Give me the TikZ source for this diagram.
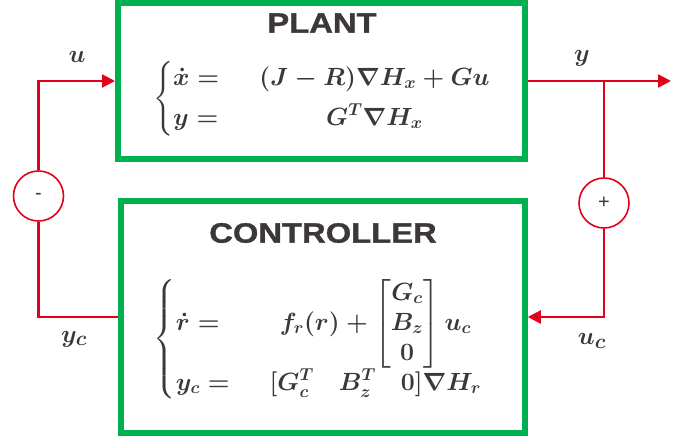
\documentclass[tikz,border=0pt]{standalone}
\usepackage{amsmath}
\usepackage{fontspec}
\usetikzlibrary{arrows.meta,positioning}

\newfontfamily\titlefont{Liberation Sans}[FakeStretch=1.17, BoldFeatures={FakeBold=1.2}]
\newfontfamily\signfont{Liberation Sans}

\definecolor{boxgreen}{RGB}{0,176,80}
\definecolor{sigred}{RGB}{226,0,26}
\definecolor{inkgray}{RGB}{60,56,56}

\begin{document}
\begin{tikzpicture}[
  x=1pt, y=-1pt,
  block/.style={draw=boxgreen, line width=6pt, inner sep=0pt},
  title/.style={text=inkgray, font=\titlefont\bfseries\fontsize{28}{32}\selectfont},
  eqn/.style={text=inkgray, inner sep=0pt, font=\fontsize{25}{30}\selectfont\mathversion{bold}},
  lbl/.style={text=inkgray, inner sep=0pt, font=\fontsize{29}{32}\selectfont\mathversion{bold}},
  sumnode/.style={draw=sigred, line width=1.6pt, circle, minimum size=50pt, inner sep=0pt,
    text=inkgray, font=\signfont\fontsize{20}{22}\selectfont},
  sig/.style={draw=sigred, line width=2.2pt},
  arrow/.style={sig, -{Triangle[length=13pt, width=13pt]}}
]
\useasboundingbox (0,0) rectangle (691,439);

% the two blocks
\node[block, minimum width=407pt, minimum height=156pt] (plant) at (321.5,81) {};
\node[block, minimum width=404pt, minimum height=232pt] (ctrl) at (322.75,317) {};

\node[title] (plantTitle) at (322,23) {PLANT};
\node[title] (ctrlTitle) at (323,233) {CONTROLLER};

\node[eqn] (plantEq) at (322,99) {$\left\{\begin{array}{@{}l@{\hspace{1.6em}}c@{}}
  \dot{x} = & (J-R)\nabla H_x + Gu\\[10pt]
  y = & G^T\nabla H_x
  \end{array}\right.$};
\node[eqn] (ctrlEq) at (318,339) {$\left\{\begin{array}{@{}l@{\hspace{1.6em}}c@{}}
  \dot{r} = & f_r(r) + \begin{bmatrix} G_c\\ B_z\\ 0\end{bmatrix} u_c\\[14pt]
  y_c = & [G_c^T \quad B_z^T \quad 0]\nabla H_r
  \end{array}\right.$};

% summing junctions
\node[sumnode] (minus) at (38.5,196) {-};
\node[sumnode] (plus) at (604,203) {+};

\coordinate (branch) at (604,81);
\coordinate (yout) at (671,81);

% signal labels
\node[lbl] (uLbl) at (77,57) {$u$};
\node[lbl] (yLbl) at (582,58) {$y$};
\node[lbl] (ycLbl) at (74,339) {$y_c$};
\node[lbl] (ucLbl) at (592,341) {$u_c$};

% connectors
\draw[arrow] (minus.north) |- (plant.west);
\draw[sig] (minus.south) |- (ctrl.west);
\draw[arrow] (plant.east) -- (yout);
\draw[sig] (branch) -- (plus.north);
\draw[arrow] (plus.south) |- (ctrl.east);
\end{tikzpicture}
\end{document}
